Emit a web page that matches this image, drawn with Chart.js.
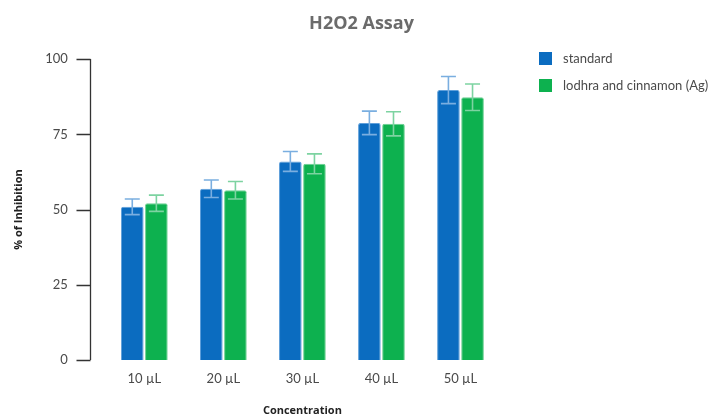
<!DOCTYPE html>
<html>
<head>
<meta charset="utf-8">
<script src="https://cdn.jsdelivr.net/npm/chart.js@4.4.1/dist/chart.umd.min.js"></script>
<style>
  html, body { margin: 0; padding: 0; background: #fff; }
  #wrap { width: 716px; height: 417px; }
</style>
</head>
<body>
<div id="wrap"><canvas id="assayChart"></canvas></div>
<script>
const concentrations = ['10 \u00b5L', '20 \u00b5L', '30 \u00b5L', '40 \u00b5L', '50 \u00b5L'];
const standardValues = [50.9, 56.9, 66.0, 78.8, 89.7];
const standardErrors = [2.6, 2.9, 3.3, 3.9, 4.5];
const lodhraValues = [52.1, 56.4, 65.2, 78.5, 87.3];
const lodhraErrors = [2.7, 2.9, 3.3, 4.0, 4.4];
const yTicks = [0, 25, 50, 75, 100];

const blue = '#0b6cc0';
const green = '#0db14f';

// error bars drawn on top of the bars
const errorBars = {
    id: 'errorBars',
    afterDatasetsDraw(chart) {
        const ctx = chart.ctx;
        const yScale = chart.scales.y;
        chart.data.datasets.forEach((ds, i) => {
            const meta = chart.getDatasetMeta(i);
            ctx.save();
            ctx.strokeStyle = ds.errorColor;
            ctx.lineWidth = 1.6;
            meta.data.forEach((bar, j) => {
                const v = ds.data[j];
                const e = ds.errors[j];
                const top = yScale.getPixelForValue(v + e);
                const bot = yScale.getPixelForValue(v - e);
                const half = 7.5;
                ctx.beginPath();
                ctx.moveTo(bar.x, top);
                ctx.lineTo(bar.x, bot);
                ctx.moveTo(bar.x - half, top);
                ctx.lineTo(bar.x + half, top);
                ctx.moveTo(bar.x - half, bot);
                ctx.lineTo(bar.x + half, bot);
                ctx.stroke();
            });
            ctx.restore();
        });
    }
};

// y axis line sits a little to the left of the plot area
const yAxisLine = {
    id: 'yAxisLine',
    afterDraw(chart) {
        const ctx = chart.ctx;
        const yScale = chart.scales.y;
        const x = Math.round(chart.chartArea.left - 15) + 0.5;
        ctx.save();
        ctx.strokeStyle = '#333';
        ctx.lineWidth = 1.3;
        ctx.beginPath();
        ctx.moveTo(x, yScale.getPixelForValue(100));
        ctx.lineTo(x, yScale.getPixelForValue(0));
        yTicks.forEach(t => {
            const y = Math.round(yScale.getPixelForValue(t)) + 0.5;
            ctx.moveTo(x - 14, y);
            ctx.lineTo(x, y);
        });
        ctx.stroke();
        ctx.restore();
    }
};

// legend on the right, drawn by hand so it keeps its place
const sideLegend = {
    id: 'sideLegend',
    afterDraw(chart) {
        const ctx = chart.ctx;
        const left = chart.chartArea.right + 39;
        ctx.save();
        ctx.font = '13px Lato';
        ctx.textBaseline = 'middle';
        chart.data.datasets.forEach((ds, i) => {
            const top = 52 + i * 27;
            ctx.fillStyle = ds.backgroundColor;
            ctx.fillRect(left, top, 13, 13);
            ctx.fillStyle = '#4a4a4a';
            ctx.fillText(ds.label, left + 24, top + 7);
        });
        ctx.restore();
    }
};

function spacer(axis, position, size) {
    return {
        type: 'linear',
        axis: axis,
        position: position,
        display: true,
        grid: { display: false },
        border: { display: false },
        ticks: { display: false },
        afterFit(s) {
            if (axis === 'x') s.height = size; else s.width = size;
        }
    };
}

const ctx = document.getElementById('assayChart').getContext('2d');
const chart = new Chart(ctx, {
    type: 'bar',
    data: {
        labels: concentrations,
        datasets: [{
            label: 'standard',
            data: standardValues,
            errors: standardErrors,
            backgroundColor: blue,
            borderColor: '#5f9fda',
            borderWidth: 1,
            borderRadius: 2,
            borderSkipped: 'bottom',
            errorColor: '#7aaee0',
            barPercentage: 0.94,
            categoryPercentage: 0.61
        }, {
            label: 'lodhra and cinnamon (Ag)',
            data: lodhraValues,
            errors: lodhraErrors,
            backgroundColor: green,
            borderColor: '#6ccf92',
            borderWidth: 1,
            borderRadius: 2,
            borderSkipped: 'bottom',
            errorColor: '#7dd3a1',
            barPercentage: 0.94,
            categoryPercentage: 0.61
        }]
    },
    options: {
        responsive: true,
        maintainAspectRatio: false,
        animation: false,
        layout: { padding: { left: 7 } },
        plugins: {
            title: {
                display: true,
                text: 'H2O2 Assay',
                color: '#6b6b6b',
                font: { family: 'Open Sans', size: 18, weight: 'bold' },
                padding: { top: 13, bottom: 3.5 }
            },
            legend: { display: false },
            tooltip: { enabled: false }
        },
        scales: {
            x: {
                grid: { display: false },
                border: { display: false },
                ticks: {
                    color: '#4a4a4a',
                    font: { family: 'Lato', size: 13 },
                    padding: 3
                },
                title: {
                    display: true,
                    text: 'Concentration',
                    color: '#222',
                    font: { family: 'Open Sans', size: 11, weight: 'bold' },
                    padding: { top: 4, bottom: 0 }
                },
                afterFit(s) { s.height = 57; }
            },
            y: {
                min: 0,
                max: 100,
                afterBuildTicks(s) { s.ticks = yTicks.map(v => ({ value: v })); },
                grid: { display: false },
                border: { display: false },
                ticks: {
                    color: '#4a4a4a',
                    font: { family: 'Lato', size: 13 },
                    padding: 29
                },
                title: {
                    display: true,
                    text: '% of Inhibition',
                    color: '#222',
                    font: { family: 'Open Sans', size: 11, weight: 'bold' },
                    padding: { top: 5, bottom: 0 }
                },
                afterFit(s) { s.width = 97.8; }
            },
            padTop: spacer('x', 'top', 21),
            padRight: spacer('y', 'right', 216)
        }
    },
    plugins: [errorBars, yAxisLine, sideLegend]
});
</script>
</body>
</html>
